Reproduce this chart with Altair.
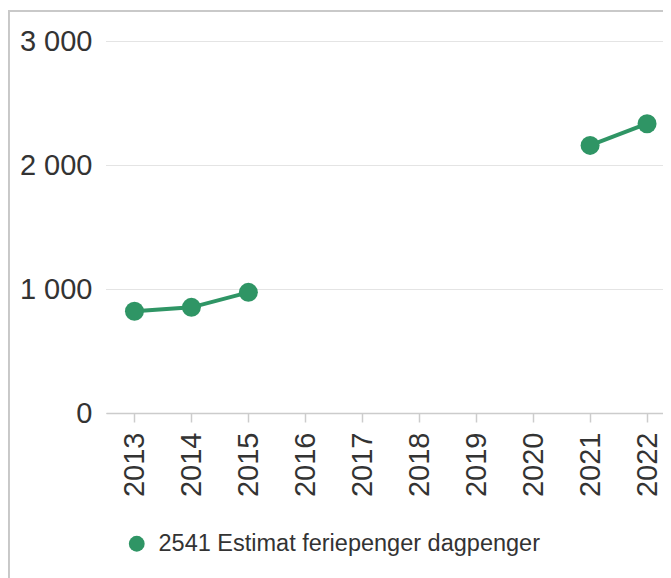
import altair as alt
import pandas as pd

years = [2013, 2014, 2015, 2016, 2017, 2018, 2019, 2020, 2021, 2022]
values = [820, 852, 973, None, None, None, None, None, 2158, 2333]
series_name = "2541 Estimat feriepenger dagpenger"
y_ticks = [0, 1000, 2000, 3000]

GREEN = "#2f9565"
TEXT = "#333333"

# segment ids so the line breaks where values are missing
seg = []
s = 0
prev_null = False
for v in values:
    if v is None:
        prev_null = True
    else:
        if prev_null:
            s += 1
        prev_null = False
    seg.append(s)

df = pd.DataFrame({"year": years, "value": values, "seg": seg, "series": series_name})

x_enc = alt.X(
    "year:Q",
    scale=alt.Scale(domain=[2012.5, 2022.28], nice=False, zero=False),
    axis=alt.Axis(
        values=years, format="d", title=None, grid=False,
        labelAngle=-90, labelAlign="right", labelBaseline="middle",
        labelFontSize=29, labelColor=TEXT, labelPadding=10,
        tickSize=9, tickColor="#cccccc", tickWidth=1.5,
        domainColor="#cccccc", domainWidth=1.5, labelFlush=False,
    ),
)
y_enc = alt.Y(
    "value:Q",
    scale=alt.Scale(domain=[0, 3000], nice=False),
    axis=alt.Axis(
        values=y_ticks, title=None, domain=False, ticks=False,
        labelFontSize=29, labelColor=TEXT, labelPadding=14,
        labelExpr="replace(format(datum.value, ','), ',', ' ')",
        gridColor="#c8c8c8", gridDash=[1, 1], gridWidth=1,
        labelBaseline="middle",
    ),
)

base = alt.Chart(df).transform_filter("isValid(datum.value)")

line = base.mark_line(strokeWidth=4, color=GREEN).encode(
    x=x_enc, y=y_enc, detail="seg:N"
)
points = base.mark_circle(size=360, opacity=1).encode(
    x=x_enc, y=y_enc,
    color=alt.Color(
        "series:N",
        scale=alt.Scale(range=[GREEN]),
        legend=alt.Legend(
            title=None, orient="none", legendX=19, legendY=491,
            symbolType="circle", symbolSize=250, symbolOpacity=1,
            symbolStrokeWidth=0, labelFontSize=23.5, labelColor=TEXT,
            labelOffset=10, padding=0, labelLimit=600,
        ),
    ),
)

# decorative frame (left and top border of the chart container)
frame_left = alt.Chart(df).mark_rule(color="#c8c8c8", strokeWidth=1.5).encode(
    x=alt.value(-97.5), y=alt.value(-30), y2=alt.value(540)
)
frame_top = alt.Chart(df).mark_rule(color="#c8c8c8", strokeWidth=1.5).encode(
    x=alt.value(-97.5), x2=alt.value(600), y=alt.value(-30)
)

chart = (
    alt.layer(frame_left, frame_top, line, points)
    .properties(
        width=557, height=372,
        autosize=alt.AutoSizeParams(type="none"),
        padding={"left": 98, "top": 33, "right": 0, "bottom": 165},
    )
    .configure(font="Liberation Sans")
    .configure_view(stroke=None)
)

chart.save("out.html", embed_options={"renderer": "svg", "actions": False})
